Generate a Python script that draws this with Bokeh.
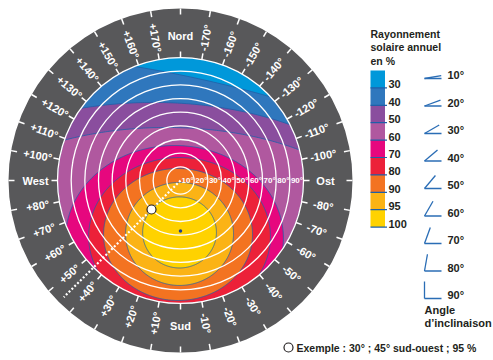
import math
from bokeh.plotting import figure
from bokeh.models import Range1d
from bokeh.embed import file_html
from bokeh.resources import INLINE
from bokeh.core.properties import value

# ---------------- data ----------------
# legend classes (upper bound of each colour band, in % of the optimum)
legend_labels = ["30", "40", "50", "60", "70", "80", "90", "95", "100"]
band_colors = ["#0098da", "#2f77bd", "#8a4e9e", "#b0589f", "#e6077e",
               "#ec2139", "#f37321", "#fbb315", "#ffd200"]
# iso-lines of annual radiation, read from the picture as ellipses in the
# (tilt-degree) plane: x east+, y north+, in degrees of inclination
contour_levels = [30, 40, 50, 60, 70, 80, 90, 95]
contour_x = [-17.6, -19.8, -10.2, -4.4, -0.7, -1.8, -0.7, -0.7]
contour_y = [-42.4, -43.9, -43.9, -42.4, -41.0, -39.5, -39.1, -38.0]
contour_w = [658.0, 367.0, 325.0, 159.4, 133.0, 109.0, 79.0, 54.0]
contour_h = [241.5, 202.0, 165.4, 136.0, 115.6, 96.6, 75.4, 52.0]
contour_rot = [-12, 0, 0, 0, 0, 0, 0, 0]
# inclination circles
tilt_circles = [10, 20, 30, 40, 50, 60, 70, 80, 90]
# azimuth scale (from south, + towards west)
azimuths = list(range(-170, 181, 10))
cardinal_names = {0: "Sud", 90: "West", -90: "Ost", 180: "Nord"}
# inclination icons
inclination_angles = [10, 20, 30, 40, 50, 60, 70, 80, 90]
# example and optimum
example_tilt, example_azimuth, example_value = 30, 45, 95
optimum_tilt, optimum_azimuth = 37, 0

# ---------------- layout ----------------
S = 123 / 90.0          # pixels per degree of inclination
R_IN = 90 * S
R_OUT = 172.0
FONT = value("Liberation Sans")
DARK = "#231f20"
LINE_BLUE = "#1f5fa8"


def polar(tilt_px, az):
    th = math.radians(-90 - az)
    return tilt_px * math.cos(th), tilt_px * math.sin(th)


def P(px, py):  # page pixel -> data
    return px - 180, 180 - py


def ellipse_in_disc(cx, cy, w, h, rot_deg, R, n=720):
    """Outline of (ellipse ∩ disc of radius R), both convex."""
    a, b = w / 2.0, h / 2.0
    c, s = math.cos(math.radians(rot_deg)), math.sin(math.radians(rot_deg))
    pts = []
    for k in range(n):
        t = 2 * math.pi * k / n
        ex, ey = a * math.cos(t), b * math.sin(t)
        x, y = cx + ex * c - ey * s, cy + ex * s + ey * c
        if x * x + y * y <= R * R:
            pts.append((x, y))
    for k in range(n):
        t = 2 * math.pi * k / n
        x, y = R * math.cos(t), R * math.sin(t)
        dx, dy = x - cx, y - cy
        u, v = dx * c + dy * s, -dx * s + dy * c
        if (u / a) ** 2 + (v / b) ** 2 <= 1:
            pts.append((x, y))
    mx = sum(q[0] for q in pts) / len(pts)
    my = sum(q[1] for q in pts) / len(pts)
    pts.sort(key=lambda q: math.atan2(q[1] - my, q[0] - mx))
    return [q[0] for q in pts], [q[1] for q in pts]


p = figure(width=493, height=360, x_range=Range1d(-180, 313), y_range=Range1d(-180, 180),
           output_backend="svg", toolbar_location=None, min_border=0,
           x_axis_location=None, y_axis_location=None)
p.xgrid.visible = False
p.ygrid.visible = False
p.outline_line_color = None
p.background_fill_color = "white"
p.border_fill_color = "white"

# disc base (lowest class)
p.circle(x=[0], y=[0], radius=R_IN, fill_color=band_colors[0], line_color=None)
# iso regions, clipped to the disc
xs, ys = [], []
for cx, cy, w, h, r in zip(contour_x, contour_y, contour_w, contour_h, contour_rot):
    ex, ey = ellipse_in_disc(cx * S, cy * S, w * S, h * S, r, R_IN)
    xs.append(ex); ys.append(ey)
p.patches(xs=xs, ys=ys, fill_color=band_colors[1:], line_color=LINE_BLUE, line_width=0.8)
# ring
p.annulus(x=[0], y=[0], inner_radius=R_IN, outer_radius=R_OUT,
          fill_color="#58585a", line_color=None)
# inclination circles
p.circle(x=[0] * len(tilt_circles), y=[0] * len(tilt_circles),
         radius=[t * S for t in tilt_circles], fill_color=None,
         line_color="white", line_width=1.3)
p.text(x=[t * S - 0.5 for t in tilt_circles], y=[0] * len(tilt_circles),
       text=[f"{t}°" for t in tilt_circles], text_align="right", text_baseline="middle",
       text_color="white", text_font=FONT, text_font_style="bold", text_font_size="8px")

# azimuth ticks and labels
x0, y0, x1, y1 = [], [], [], []
for a in azimuths:
    for r0, r1 in ((R_IN, R_IN + 6), (R_OUT - 6, R_OUT)):
        ax, ay = polar(r0, a)
        bx, by = polar(r1, a)
        x0.append(ax); y0.append(ay); x1.append(bx); y1.append(by)
p.segment(x0=x0, y0=y0, x1=x1, y1=y1, line_color="white", line_width=1.5)

lx, ly, lt, la = [], [], [], []
for a in azimuths:
    x, y = polar(145, a)
    lx.append(x); ly.append(y)
    if a in cardinal_names:
        lt.append(cardinal_names[a]); la.append(0.0)
    else:
        lt.append(f"+{a}°" if a > 0 else f"{a}°")
        th = math.radians(-90 - a)
        if math.cos(th) < 0:
            th += math.pi
        la.append(th)
p.text(x=lx, y=ly, text=lt, angle=la, text_align="center", text_baseline="middle",
       text_color="white", text_font=FONT, text_font_style="bold", text_font_size="11px")

# example line and points
ex, ey = polar(165, example_azimuth)
p.line(x=[0, ex], y=[0, ey], line_color="white", line_width=2.2, line_dash="2 2")
ox, oy = polar(optimum_tilt * S, optimum_azimuth)
p.scatter(x=[ox], y=[oy], size=3.5, fill_color="#1f3f8f", line_color=None)
px_, py_ = polar(example_tilt * S, example_azimuth)
p.scatter(x=[px_], y=[py_], size=9, fill_color="white", line_color=DARK, line_width=1.2)

# legend title
for i, t in enumerate(["Rayonnement", "solaire annuel", "en %"]):
    x, y = P(370, 33 + 13.5 * i)
    p.text(x=[x], y=[y], text=[t], text_align="left", text_baseline="middle",
           text_color=DARK, text_font=FONT, text_font_style="bold", text_font_size="10.5px")

# colour bar
top0, step = 70.0, 17.4
qb, qt = [], []
for i in range(len(band_colors)):
    qt.append(180 - (top0 + step * i))
    qb.append(180 - (top0 + step * (i + 1)))
p.quad(left=[370 - 180] * len(qt), right=[384.5 - 180] * len(qt), top=qt, bottom=qb,
       fill_color=band_colors, line_color=None)
p.segment(x0=[190] * len(qb), y0=qb, x1=[206.5] * len(qb), y1=qb,
          line_color=LINE_BLUE, line_width=1.2)
p.text(x=[388 - 180] * len(qb), y=[b + 3.5 for b in qb], text=legend_labels,
       text_align="left", text_baseline="middle", text_color=DARK, text_font=FONT,
       text_font_style="bold", text_font_size="11px")

# inclination icons
ix0, iy0, ix1, iy1 = [], [], [], []
for i, ang in enumerate(inclination_angles):
    vx, vy = P(424, 78 + 27.5 * i)
    ix0 += [vx, vx]; iy0 += [vy, vy]
    ix1 += [vx + 17, vx + 17 * math.cos(math.radians(ang))]
    iy1 += [vy, vy + 17 * math.sin(math.radians(ang))]
p.segment(x0=ix0, y0=iy0, x1=ix1, y1=iy1, line_color="#2a6db5", line_width=1.3)
p.text(x=[447 - 180] * len(inclination_angles),
       y=[180 - (78 + 27.5 * i) + 3.5 for i in range(len(inclination_angles))],
       text=[f"{a}°" for a in inclination_angles], text_align="left", text_baseline="middle",
       text_color=DARK, text_font=FONT, text_font_style="bold", text_font_size="11px")
for t, yy in (("Angle", 309), ("d’inclinaison", 322.5)):
    x, y = P(424, yy)
    p.text(x=[x], y=[y], text=[t], text_align="left", text_baseline="middle",
           text_color=DARK, text_font=FONT, text_font_style="bold", text_font_size="11px")

# footnote
cx, cy = P(288, 347)
p.scatter(x=[cx], y=[cy], size=9, fill_color="white", line_color=DARK, line_width=1.2)
x, y = P(296, 347)
p.text(x=[x], y=[y], text=[f"Exemple : {example_tilt}° ; {example_azimuth}° sud-ouest ; {example_value} %"],
       text_align="left", text_baseline="middle", text_color=DARK, text_font=FONT,
       text_font_style="bold", text_font_size="10.5px")

open("out.html", "w").write(file_html(p, INLINE))
